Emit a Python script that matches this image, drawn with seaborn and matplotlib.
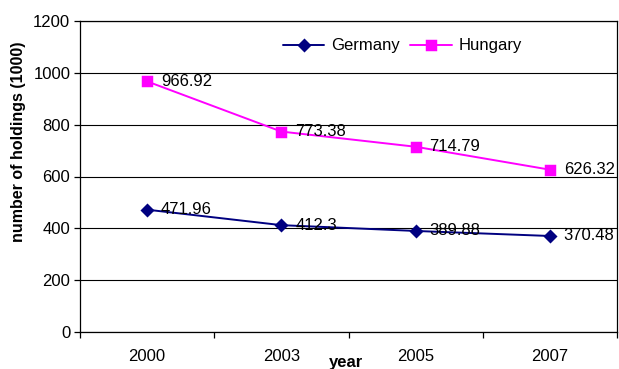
import matplotlib
matplotlib.use("Agg")
import matplotlib.pyplot as plt
import seaborn as sns
import pandas as pd

years = ["2000", "2003", "2005", "2007"]
germany = [471.96, 412.3, 389.88, 370.48]
hungary = [966.92, 773.38, 714.79, 626.32]
countries = ["Germany", "Hungary"]
colors = {"Germany": "#000080", "Hungary": "#FF00FF"}

df = pd.DataFrame({
    "year": years * 2,
    "holdings": germany + hungary,
    "country": ["Germany"] * len(years) + ["Hungary"] * len(years),
})

sns.set_style("white")
plt.rcParams["font.family"] = ["Liberation Sans", "DejaVu Sans"]
plt.rcParams["text.color"] = "black"
plt.rcParams["axes.labelcolor"] = "black"
plt.rcParams["xtick.color"] = "black"
plt.rcParams["ytick.color"] = "black"

fig = plt.figure(figsize=(6.19, 3.69), dpi=100)
ax = fig.add_axes([80 / 619, 1 - 332 / 369, 537 / 619, 311 / 369])

sns.pointplot(data=df, x="year", y="holdings", hue="country", order=years,
              hue_order=countries, palette=colors, markers=["D", "s"],
              linestyles=["-", "-"], markersize=6.5, linewidth=1.4,
              errorbar=None, ax=ax)

for name, vals in zip(countries, [germany, hungary]):
    for i, v in enumerate(vals):
        ax.annotate(f"{v}", (i, v), xytext=(10, 0), textcoords="offset points",
                    ha="left", va="center", fontsize=12, color="black",
                    annotation_clip=False)

ax.set_ylim(0, 1200)
ax.set_xlim(-0.5, 3.5)
ax.set_yticks(range(0, 1201, 200))
ax.grid(axis="y", color="black", linewidth=0.8)
ax.set_axisbelow(True)
for side in ["left", "bottom", "right", "top"]:
    ax.spines[side].set_visible(True)
    ax.spines[side].set_color("black")
    ax.spines[side].set_linewidth(0.9)

ax.set_xticks([0, 1, 2, 3])
ax.set_xticklabels(years)
ax.set_xticks([-0.5, 0.5, 1.5, 2.5, 3.5], minor=True)
ax.tick_params(axis="x", which="major", length=0, pad=12, labelsize=12,
               labelcolor="black")
ax.tick_params(axis="x", which="minor", length=4, width=0.9, color="black",
               direction="out", bottom=True)
ax.tick_params(axis="y", length=4, width=0.9, color="black", direction="out",
               left=True, labelsize=12, pad=3, labelcolor="black")

ax.set_ylabel("number of holdings (1000)", fontsize=11.5, fontweight="bold",
              color="black")
ax.yaxis.set_label_coords(-0.1, (332 - 142) / 311)
ax.set_xlabel("year", fontsize=12, fontweight="bold", color="black")
ax.xaxis.set_label_coords((346 - 80) / 537, -0.074)

handles, labels = ax.get_legend_handles_labels()
ax.legend(handles, labels, loc="center", bbox_to_anchor=(0.6, 0.92),
          ncol=2, frameon=False, fontsize=12, handlelength=2.5,
          columnspacing=0.6, handletextpad=0.4, labelcolor="black")

fig.savefig("out.png", dpi=100)
